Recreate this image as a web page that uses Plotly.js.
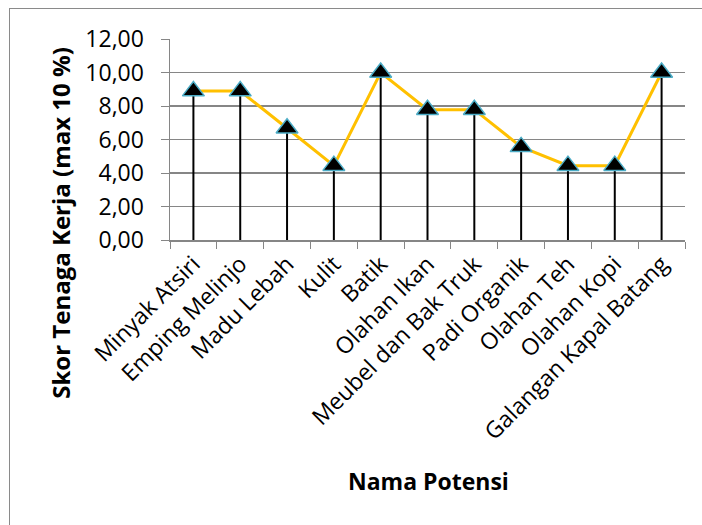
<!DOCTYPE html>
<html>
<head>
<meta charset="utf-8">
<script src="https://cdn.plot.ly/plotly-3.0.1.min.js"></script>
<style>
html,body{margin:0;padding:0;width:702px;height:525px;overflow:hidden;background:#fff;}
#frame{position:absolute;left:9px;top:8px;width:900px;height:800px;border:1.5px solid #8a8a8a;box-sizing:border-box;pointer-events:none;z-index:5;}
#chart{position:absolute;left:0;top:0;width:702px;height:525px;}
</style>
</head>
<body>
<div id="chart"></div>
<div id="frame"></div>
<script>
const categories = ["Minyak Atsiri","Emping Melinjo","Madu Lebah","Kulit","Batik","Olahan Ikan","Meubel dan Bak Truk","Padi Organik","Olahan Teh","Olahan Kopi","Galangan Kapal Batang"];
const scores = [8.89, 8.89, 6.67, 4.44, 10.00, 7.78, 7.78, 5.56, 4.44, 4.44, 10.00];
const yTicks = [0, 2, 4, 6, 8, 10, 12];
const xTitle = "Nama Potensi";
const yTitle = "Skor Tenaga Kerja (max 10 %)";

const font = "'Open Sans', 'Noto Sans', sans-serif";

const traces = [
  {
    x: categories, y: scores, type: "scatter", mode: "lines",
    line: {color: "#FFC000", width: 3}, hoverinfo: "skip", showlegend: false
  },
  {
    x: categories, y: scores, type: "scatter", mode: "markers",
    marker: {symbol: "triangle-up", size: 19, color: "#000000", line: {color: "#4BACC6", width: 1.5}},
    error_y: {type: "data", symmetric: false, array: scores.map(() => 0), arrayminus: scores, color: "#000000", thickness: 2, width: 0},
    showlegend: false
  }
];

const layout = {
  width: 702, height: 525,
  margin: {l: 170, r: 17, t: 39, b: 285},
  paper_bgcolor: "#ffffff", plot_bgcolor: "#ffffff",
  font: {family: font, color: "#000000", size: 22},
  separators: ",.",
  xaxis: {
    type: "category", range: [-0.5, categories.length - 0.5], autorange: false,
    tickangle: -45, tickson: "boundaries",
    ticks: "outside", ticklen: 7, tickcolor: "#868686", tickwidth: 1,
    showline: true, linecolor: "#868686", linewidth: 1.5,
    showgrid: false, tickfont: {family: font, size: 23, color: "#000"},
    fixedrange: true
  },
  yaxis: {
    range: [0, 12], tickvals: yTicks, tickformat: ".2f",
    ticks: "outside", ticklen: 8, tickcolor: "#868686", tickwidth: 1,
    showline: true, linecolor: "#868686", linewidth: 1.5,
    showgrid: true, gridcolor: "#868686", gridwidth: 1.2,
    zeroline: false, tickfont: {family: font, size: 23, color: "#000"},
    ticklabelstandoff: 12, fixedrange: true
  },
  annotations: [
    {text: "<b>" + xTitle + "</b>", xref: "paper", yref: "paper", x: 0.501, y: -1.199, xanchor: "center", yanchor: "middle", showarrow: false, font: {family: font, size: 23, color: "#000"}},
    {text: "<b>" + yTitle + "</b>", xref: "paper", yref: "paper", x: -0.212, y: 0.085, xanchor: "center", yanchor: "middle", textangle: -90, showarrow: false, font: {family: font, size: 24, color: "#000"}}
  ]
};

Plotly.newPlot("chart", traces, layout, {displayModeBar: false, staticPlot: true});
</script>
</body>
</html>
